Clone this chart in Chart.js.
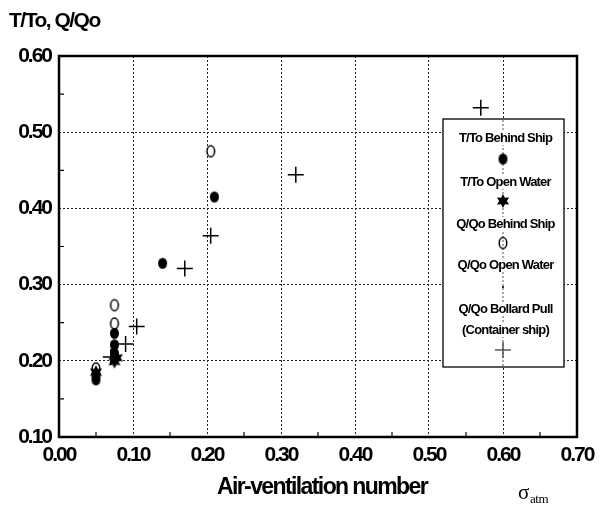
<!DOCTYPE html>
<html>
<head>
<meta charset="utf-8">
<script src="https://cdn.jsdelivr.net/npm/chart.js@4.4.0/dist/chart.umd.min.js"></script>
<style>
  html, body { margin: 0; padding: 0; background: #fff; }
</style>
</head>
<body>
<canvas id="chart" width="606" height="509"></canvas>
<script>
// values
const tBehindX = [0.05, 0.05, 0.075, 0.075, 0.075, 0.14, 0.21];
const tBehindY = [0.175, 0.181, 0.21, 0.221, 0.236, 0.328, 0.415];
const tOpenX = [0.05, 0.075, 0.078];
const tOpenY = [0.185, 0.199, 0.204];
const qBehindX = [0.05, 0.075, 0.075, 0.205];
const qBehindY = [0.19, 0.249, 0.273, 0.475];
const qOpenX = [0.05, 0.075];
const qOpenY = [0.183, 0.213];
const bollardX = [0.07, 0.09, 0.105, 0.17, 0.205, 0.32, 0.57];
const bollardY = [0.205, 0.222, 0.245, 0.321, 0.364, 0.444, 0.532];

const legendLabels = [
    ['T/To Behind Ship'],
    ['T/To Open Water'],
    ['Q/Qo Behind Ship'],
    ['Q/Qo Open Water'],
    ['Q/Qo Bollard Pull', '(Container ship)']
];

const labelFont = '"Liberation Sans", Arial, sans-serif';

function pts(xs, ys) {
    return xs.map((x, i) => ({ x: x, y: ys[i] }));
}

// marker images
function ellipseMarker(rx, ry, filled) {
    const c = document.createElement('canvas');
    c.width = Math.ceil(rx * 2 + 4);
    c.height = Math.ceil(ry * 2 + 4);
    const g = c.getContext('2d');
    g.beginPath();
    g.ellipse(c.width / 2, c.height / 2, rx, ry, 0, 0, Math.PI * 2);
    if (filled) {
        g.fillStyle = '#000';
        g.fill();
    } else {
        g.lineWidth = 1.5;
        g.strokeStyle = '#000';
        g.stroke();
    }
    return c;
}

function starMarker(r) {
    const c = document.createElement('canvas');
    c.width = c.height = Math.ceil(r * 2 + 4);
    const g = c.getContext('2d');
    const cx = c.width / 2, cy = c.height / 2;
    g.fillStyle = '#000';
    g.beginPath();
    for (let i = 0; i < 12; i++) {
        const a = -Math.PI / 2 + i * Math.PI / 6;
        const rr = i % 2 === 0 ? r : r * 0.55;
        const px = cx + rr * Math.cos(a), py = cy + rr * Math.sin(a);
        if (i === 0) g.moveTo(px, py); else g.lineTo(px, py);
    }
    g.closePath();
    g.fill();
    return c;
}

function dotMarker() {
    const c = document.createElement('canvas');
    c.width = c.height = 4;
    const g = c.getContext('2d');
    g.fillStyle = '#333';
    g.fillRect(1, 1, 2, 2);
    return c;
}

const filledImg = ellipseMarker(4.5, 5.5, true);
const openImg = ellipseMarker(3.8, 5.5, false);
const starImg = starMarker(7);
const dotImg = dotMarker();

function isMajor(v) {
    return Math.round(v * 100) % 10 === 0;
}

// squeeze the tick labels like the condensed face in the picture
const squeezePlugin = {
    id: 'squeeze',
    beforeDraw(chart) {
        chart.ctx.letterSpacing = '-2px';
    }
};

const framePlugin = {
    id: 'frame',
    afterDraw(chart) {
        const ctx = chart.ctx;
        const a = chart.chartArea;
        const xs = chart.scales.x, ys = chart.scales.y;
        ctx.save();
        // minor tick marks inside the plot
        ctx.strokeStyle = '#000';
        ctx.lineWidth = 1.2;
        ctx.beginPath();
        for (let v = 0.05; v < 0.7; v += 0.1) {
            const px = xs.getPixelForValue(v);
            ctx.moveTo(px, a.bottom);
            ctx.lineTo(px, a.bottom - 5);
        }
        for (let v = 0.15; v < 0.6; v += 0.1) {
            const py = ys.getPixelForValue(v);
            ctx.moveTo(a.left, py);
            ctx.lineTo(a.left + 5, py);
        }
        ctx.stroke();
        // frame
        ctx.lineWidth = 2.5;
        ctx.strokeRect(a.left, a.top, a.right - a.left, a.bottom - a.top);

        // y axis title
        ctx.fillStyle = '#000';
        ctx.textBaseline = 'alphabetic';
        ctx.textAlign = 'left';
        ctx.font = 'bold 21px ' + labelFont;
        ctx.letterSpacing = '-1.5px';
        ctx.fillText('T/To, Q/Qo', 9, 27);

        // x axis title
        ctx.textAlign = 'center';
        ctx.font = 'bold 23px ' + labelFont;
        ctx.letterSpacing = '-1.6px';
        ctx.fillText('Air-ventilation number', 322, 494);
        ctx.letterSpacing = '0px';

        // sigma atm
        ctx.textAlign = 'left';
        ctx.font = '21px "Liberation Serif", serif';
        ctx.fillText('\u03c3', 518, 499);
        ctx.font = '13px "Liberation Serif", serif';
        ctx.letterSpacing = '-0.5px';
        ctx.fillText('atm', 530, 503);

        // legend box
        const bx = 443, by = 119, bw = 121, bh = 248;
        ctx.fillStyle = '#fff';
        ctx.fillRect(bx, by, bw, bh);
        ctx.lineWidth = 1.3;
        ctx.strokeStyle = '#000';
        ctx.strokeRect(bx, by, bw, bh);
        const cx = xs.getPixelForValue(0.6);
        // dotted grid line through the legend, as in the picture
        ctx.setLineDash([2, 2]);
        ctx.lineWidth = 1;
        ctx.strokeStyle = '#555';
        ctx.beginPath();
        ctx.moveTo(cx, by + 1);
        ctx.lineTo(cx, by + bh - 1);
        ctx.stroke();
        ctx.setLineDash([]);

        ctx.fillStyle = '#000';
        ctx.font = 'bold 13px ' + labelFont;
        ctx.letterSpacing = '-0.8px';
        ctx.textAlign = 'center';
        ctx.textBaseline = 'middle';
        const textY = [138, 182, 224, 265, 309];
        const markY = [159, 201, 243, 287, 350];
        const imgs = [filledImg, starImg, openImg, dotImg, null];
        legendLabels.forEach((lines, i) => {
            lines.forEach((t, j) => {
                ctx.fillStyle = '#fff';
                const w = ctx.measureText(t).width;
                ctx.fillRect(bx + bw / 2 + 1 - w / 2, textY[i] + j * 21 - 7, w, 14);
                ctx.fillStyle = '#000';
                ctx.fillText(t, bx + bw / 2 + 2, textY[i] + j * 21);
            });
            const img = imgs[i];
            if (img) {
                ctx.drawImage(img, cx - img.width / 2, markY[i] - img.height / 2);
            } else {
                ctx.lineWidth = 1.5;
                ctx.beginPath();
                ctx.moveTo(cx - 8, markY[i]);
                ctx.lineTo(cx + 8, markY[i]);
                ctx.moveTo(cx, markY[i] - 8);
                ctx.lineTo(cx, markY[i] + 8);
                ctx.stroke();
            }
        });
        ctx.restore();
    }
};

const chart = new Chart(document.getElementById('chart'), {
    type: 'scatter',
    data: {
        datasets: [
            {
                label: 'Q/Qo Bollard Pull (Container ship)',
                data: pts(bollardX, bollardY),
                pointStyle: 'cross',
                pointRadius: 8,
                borderColor: '#000',
                borderWidth: 1.5,
            },
            {
                label: 'Q/Qo Behind Ship',
                data: pts(qBehindX, qBehindY),
                pointStyle: openImg,
            },
            {
                label: 'T/To Behind Ship',
                data: pts(tBehindX, tBehindY),
                pointStyle: filledImg,
            },
            {
                label: 'T/To Open Water',
                data: pts(tOpenX, tOpenY),
                pointStyle: starImg,
            },
            {
                label: 'Q/Qo Open Water',
                data: pts(qOpenX, qOpenY),
                pointStyle: dotImg,
            },
        ],
    },
    options: {
        responsive: false,
        animation: false,
        layout: {
            padding: { top: 56, right: 29, left: 0, bottom: 0 },
        },
        plugins: {
            legend: { display: false },
            tooltip: { enabled: false },
        },
        scales: {
            x: {
                type: 'linear',
                min: 0,
                max: 0.7,
                afterFit: (scale) => { scale.height = 72; },
                border: { display: false, dash: [2, 2] },
                grid: {
                    drawTicks: false,
                    lineWidth: 1,
                    color: (ctx) => (ctx.tick && isMajor(ctx.tick.value)) ? '#222' : 'rgba(0,0,0,0)',
                },
                ticks: {
                    stepSize: 0.05,
                    autoSkip: false,
                    maxRotation: 0,
                    padding: 6,
                    color: '#000',
                    font: { family: labelFont, size: 21, weight: 'bold' },
                    callback: (v) => isMajor(v) ? v.toFixed(2) : '',
                },
            },
            y: {
                type: 'linear',
                min: 0.1,
                max: 0.6,
                afterFit: (scale) => { scale.width = 59; },
                border: { display: false, dash: [2, 2] },
                grid: {
                    drawTicks: false,
                    lineWidth: 1,
                    color: (ctx) => (ctx.tick && isMajor(ctx.tick.value)) ? '#222' : 'rgba(0,0,0,0)',
                },
                ticks: {
                    stepSize: 0.05,
                    autoSkip: false,
                    padding: 8,
                    color: '#000',
                    font: { family: labelFont, size: 21, weight: 'bold' },
                    callback: (v) => isMajor(v) ? v.toFixed(2) : '',
                },
            },
        },
    },
    plugins: [squeezePlugin, framePlugin],
});
</script>
</body>
</html>
